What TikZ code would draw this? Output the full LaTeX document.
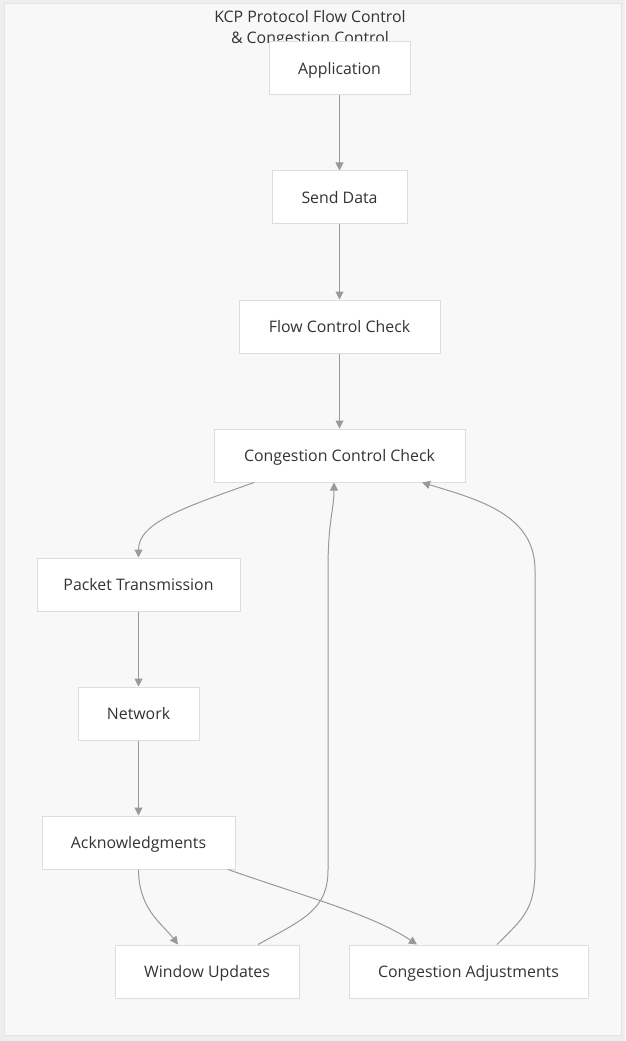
\documentclass[tikz,border=0pt]{standalone}
\usepackage{fontspec}
\setmainfont{Open Sans}
\usetikzlibrary{arrows.meta,calc}
\definecolor{pagebg}{HTML}{EEEEEE}
\definecolor{clusterbg}{HTML}{F8F8F8}
\definecolor{clusterbd}{HTML}{E4E4E4}
\definecolor{nodebd}{HTML}{DDDDDD}
\definecolor{edgec}{HTML}{999999}
\definecolor{txt}{HTML}{333333}
\tikzset{
  box/.style={draw=nodebd, fill=white, line width=0.75pt, minimum height=53*0.75pt, inner sep=0pt, text=txt, font=\fontsize{11.9pt}{13pt}\selectfont, text depth=0.5pt},
  edge/.style={draw=edgec, line width=0.75pt, -{Triangle[length=6pt,width=6pt]}},
}
\begin{document}
\begin{tikzpicture}[x=0.75pt,y=-0.75pt]
\useasboundingbox (0,0) rectangle (625,1041);
\fill[pagebg] (0,0) rectangle (625,1041);
\draw[clusterbd, fill=clusterbg, line width=0.75pt] (4,4) rectangle (621,1035);
\node[text=txt, font=\fontsize{11.9pt}{13pt}\selectfont, align=center] (title) at (310,29) {KCP Protocol Flow Control\\[3pt]\& Congestion Control};
\node[box, minimum width=141*0.75pt] (app) at (339.5,68.5) {Application};
\node[box, minimum width=135*0.75pt] (send) at (339.5,197.5) {Send Data};
\node[box, minimum width=201*0.75pt] (flow) at (339.5,326.5) {Flow Control Check};
\node[box, minimum width=251*0.75pt] (ccc) at (339.5,455.5) {Congestion Control Check};
\node[box, minimum width=203*0.75pt] (pkt) at (138.5,584.5) {Packet Transmission};
\node[box, minimum width=121*0.75pt] (net) at (138.5,713.5) {Network};
\node[box, minimum width=193*0.75pt] (ack) at (138.5,842.5) {Acknowledgments};
\node[box, minimum width=184*0.75pt] (win) at (207,971.5) {Window Updates};
\node[box, minimum width=239*0.75pt] (cadj) at (468.5,971.5) {Congestion Adjustments};
\draw[edge] (app) -- (send);
\draw[edge] (send) -- (flow);
\draw[edge] (flow) -- (ccc);
\draw[edge] ($(ccc.south)+(-85.5,0)$) .. controls +(-70,25) and +(0,-35) .. (pkt.north);
\draw[edge] (pkt) -- (net);
\draw[edge] (net) -- (ack);
\draw[edge] (ack.south) .. controls +(0,40) and +(-15,-20) .. ($(win.north)+(-29,0)$);
\draw[edge] ($(ack.south)+(89.5,0)$) .. controls +(80,28) and +(-45,-30) .. ($(cadj.north)+(-51.5,0)$);
\draw[edge] ($(win.north)+(51,0)$) .. controls +(45,-25) and +(0,40) .. (328,870) -- (328,570) .. controls (328,520) and (334,510) .. ($(ccc.south)+(-5.5,0)$);
\draw[edge] ($(cadj.north)+(28.5,0)$) .. controls +(25,-25) and +(0,40) .. (535,870) -- (535,570) .. controls (535,515) and (480,500) .. ($(ccc.south)+(82.5,0)$);
\end{tikzpicture}
\end{document}
